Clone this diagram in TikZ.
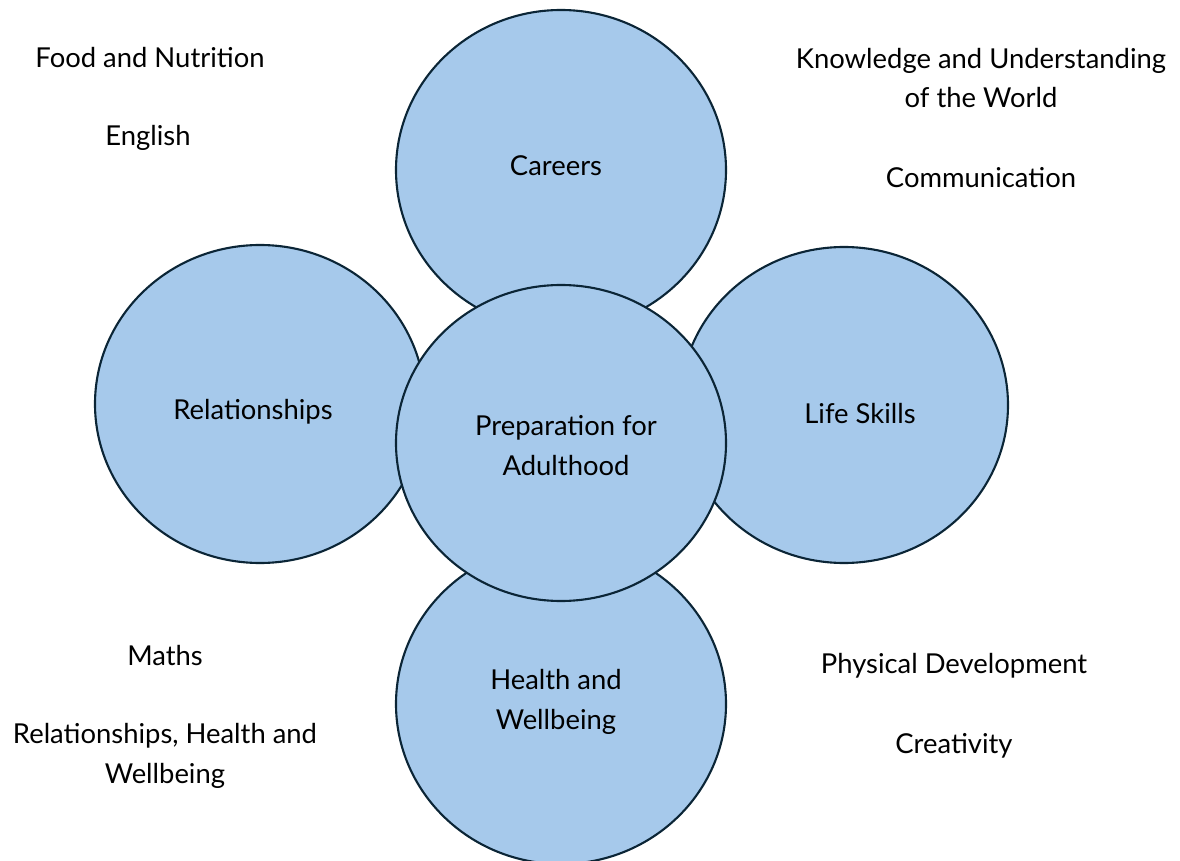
\documentclass[tikz,border=0pt]{standalone}
\usepackage{fontspec}
\setmainfont{Lato}
\usetikzlibrary{shapes.geometric}
\definecolor{bubble}{HTML}{A6C9EB}
\definecolor{rim}{HTML}{0B2536}
\tikzset{
  bubble/.style={ellipse, draw=rim, fill=bubble, line width=1.2pt, inner sep=0pt},
  txt/.style={align=center, font=\fontsize{15.6}{22.7}\selectfont, text=black, inner sep=0pt}
}
\begin{document}
\begin{tikzpicture}[x=0.02cm, y=-0.02cm]
\useasboundingbox (0,0) rectangle (1180,861);
\node[bubble, minimum width=330*0.02cm, minimum height=320*0.02cm] (careers) at (561,170) {};
\node[bubble, minimum width=330*0.02cm, minimum height=318*0.02cm] (rel) at (260,404) {};
\node[bubble, minimum width=328*0.02cm, minimum height=316*0.02cm] (life) at (844,405) {};
\node[bubble, minimum width=330*0.02cm, minimum height=320*0.02cm] (health) at (561,704) {};
\node[bubble, minimum width=330*0.02cm, minimum height=316*0.02cm] (center) at (561,443) {};

\node[txt] (tcareers) at (556,166) {Careers};
\node[txt] (trel) at (253,412) {Relationships};
\node[txt] (tlife) at (860,414) {Life Skills};
\node[txt] (tcenter) at (566,446) {Preparation for\\Adulthood};
\node[txt] (thealth) at (556,702) {Health and\\Wellbeing};

\node[txt] (food) at (150,58) {Food and Nutrition};
\node[txt] (eng) at (148,138) {English};
\node[txt] (kuw) at (981,78) {Knowledge and Understanding\\of the World};
\node[txt] (comm) at (981,178) {Communication};
\node[txt] (maths) at (165,656) {Maths};
\node[txt] (rhw) at (165,756) {Relationships, Health and\\Wellbeing};
\node[txt] (phys) at (954,666) {Physical Development};
\node[txt] (crea) at (954,746) {Creativity};
\end{tikzpicture}
\end{document}
